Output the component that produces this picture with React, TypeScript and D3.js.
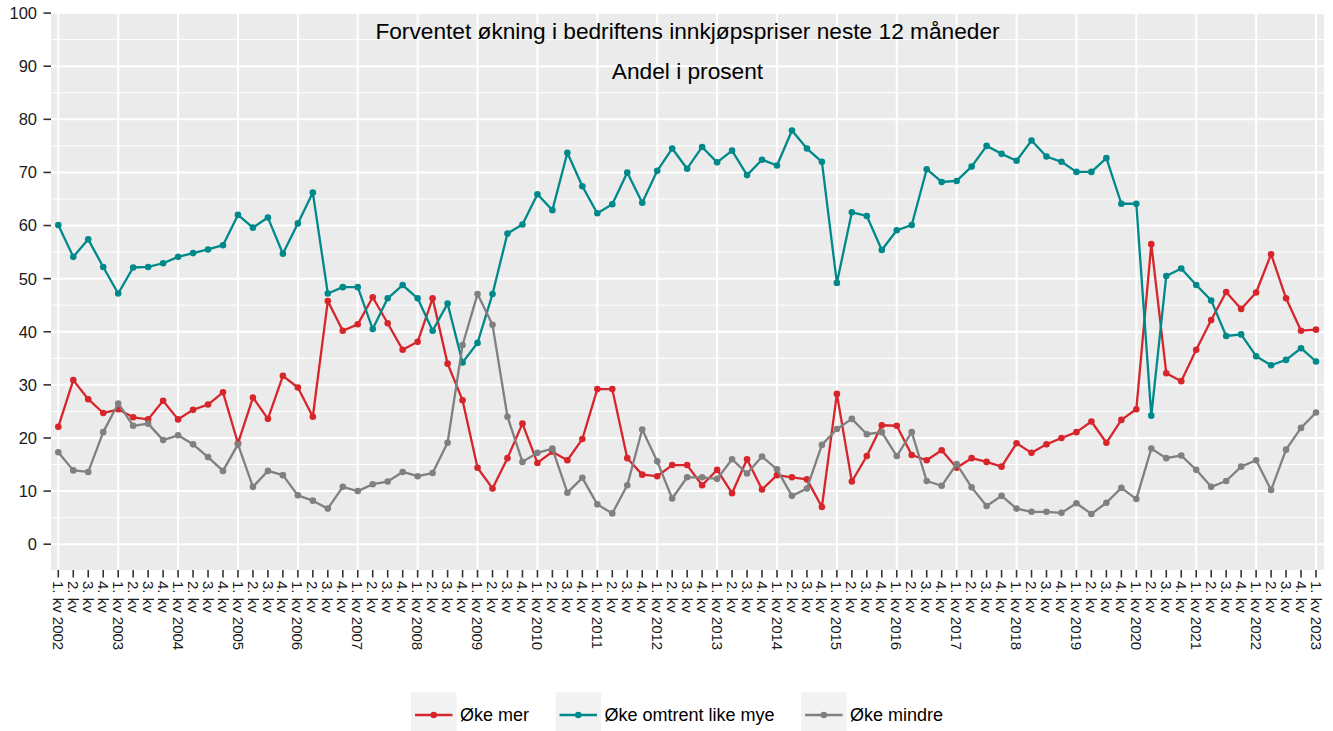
import React, { useEffect, useRef } from 'react';
import * as d3 from 'd3';

// Forventet økning i bedriftens innkjøpspriser, andel i prosent
const years = [2002, 2003, 2004, 2005, 2006, 2007, 2008, 2009, 2010, 2011, 2012, 2013, 2014, 2015, 2016, 2017, 2018, 2019, 2020, 2021, 2022, 2023];
const quarterNames = ['1. kv', '2. kv', '3. kv', '4. kv'];

const okeMer = [
  22.1, 30.9, 27.3, 24.7, 25.4, 23.9, 23.5, 27.0, 23.5, 25.3, 26.3, 28.6, 19.0, 27.6, 23.6, 31.7, 29.5, 24.0,
  45.8, 40.2, 41.4, 46.5, 41.6, 36.6, 38.1, 46.3, 34.0, 27.1, 14.4, 10.5, 16.2, 22.7, 15.3, 17.4, 15.8, 19.8, 29.2, 29.2,
  16.2, 13.1, 12.8, 14.9, 14.9, 11.1, 14.0, 9.6, 16.0, 10.3, 13.0, 12.6, 12.2, 7.0, 28.3, 11.8, 16.6, 22.4, 22.3, 16.8, 15.8, 17.7, 14.4, 16.2,
  15.5, 14.6, 19.0, 17.2, 18.8, 20.0, 21.1, 23.1, 19.1, 23.4, 25.4, 56.5, 32.2, 30.7, 36.6, 42.2, 47.5, 44.3, 47.4, 54.6, 46.3, 40.2, 40.4
];

const okeLike = [
  60.1, 54.1, 57.4, 52.2, 47.2, 52.1, 52.2, 52.9, 54.1, 54.8, 55.5, 56.3, 62.0, 59.6, 61.5, 54.7, 60.4, 66.2,
  47.2, 48.4, 48.4, 40.5, 46.3, 48.8, 46.3, 40.2, 45.3, 34.2, 37.9, 47.1, 58.5, 60.2, 65.9, 62.9, 73.7, 67.4, 62.3, 64.0,
  70.0, 64.3, 70.3, 74.5, 70.7, 74.8, 71.9, 74.1, 69.5, 72.4, 71.3, 77.9, 74.5, 72.0, 49.2, 62.5, 61.8, 55.4, 59.1, 60.1, 70.6, 68.2, 68.4, 71.1,
  75.0, 73.5, 72.2, 76.0, 73.0, 72.0, 70.1, 70.1, 72.7, 64.1, 64.1, 24.2, 50.5, 51.9, 48.8, 45.9, 39.2, 39.5, 35.4, 33.7, 34.7, 36.9, 34.4
];

const okeMindre = [
  17.3, 13.9, 13.6, 21.1, 26.5, 22.3, 22.7, 19.6, 20.5, 18.8, 16.4, 13.8, 18.8, 10.8, 13.8, 13.0, 9.2, 8.2, 6.7,
  10.8, 10.0, 11.3, 11.8, 13.6, 12.8, 13.4, 19.1, 37.5, 47.1, 41.3, 24.0, 15.5, 17.2, 18.0, 9.7, 12.5, 7.5, 5.8, 11.1,
  21.6, 15.6, 8.6, 12.6, 12.6, 12.3, 16.0, 13.3, 16.5, 14.1, 9.1, 10.5, 18.7, 21.7, 23.6, 20.7, 21.1, 16.6, 21.1, 11.9, 11.0, 15.1, 10.7,
  7.2, 9.1, 6.7, 6.1, 6.1, 5.9, 7.7, 5.7, 7.8, 10.6, 8.5, 18.0, 16.2, 16.7, 14.0, 10.8, 11.9, 14.6, 15.8, 10.2, 17.8, 21.9, 24.8
];

const seriesNames = ['Øke mer', 'Øke omtrent like mye', 'Øke mindre'];
const seriesColors = ['#d7262b', '#00898a', '#808080'];
const yTicks = [0, 10, 20, 30, 40, 50, 60, 70, 80, 90, 100];

const WIDTH = 1333;
const HEIGHT = 731;
const FONT = 'Arial, "Liberation Sans", sans-serif';

const App = () => {
  const svgRef = useRef<SVGSVGElement>(null);

  useEffect(() => {
    const svg = d3.select(svgRef.current);
    svg.selectAll('*').remove();

    // quarter labels, Q1 carries the year
    const labels: string[] = [];
    years.forEach((yr, yi) => {
      quarterNames.forEach((q, qi) => {
        if (yi === years.length - 1 && qi > 0) return;
        labels.push(qi === 0 ? `${q} ${yr}` : q);
      });
    });
    const n = labels.length;

    const panel = { left: 51, right: 1324, top: 12.5, bottom: 570 };
    const x = d3.scaleLinear().domain([0, n - 1]).range([58.3, 1316]);
    const y = d3.scaleLinear().domain([0, 100]).range([544.2, 13.1]);

    svg.append('rect').attr('width', WIDTH).attr('height', HEIGHT).attr('fill', '#ffffff');

    svg.append('rect')
      .attr('x', panel.left).attr('y', panel.top)
      .attr('width', panel.right - panel.left).attr('height', panel.bottom - panel.top)
      .attr('fill', '#ebebeb');

    const grid = svg.append('g');
    // minor horizontal grid
    grid.selectAll('line.minor')
      .data(d3.range(5, 100, 10))
      .join('line')
        .attr('class', 'minor')
        .attr('x1', panel.left).attr('x2', panel.right)
        .attr('y1', d => y(d)).attr('y2', d => y(d))
        .attr('stroke', '#ffffff').attr('stroke-width', 1);
    grid.selectAll('line.major')
      .data(yTicks)
      .join('line')
        .attr('class', 'major')
        .attr('x1', panel.left).attr('x2', panel.right)
        .attr('y1', d => y(d)).attr('y2', d => y(d))
        .attr('stroke', '#ffffff').attr('stroke-width', 2);
    grid.selectAll('line.vert')
      .data(d3.range(0, n, 4))
      .join('line')
        .attr('class', 'vert')
        .attr('y1', panel.top).attr('y2', panel.bottom)
        .attr('x1', d => x(d)).attr('x2', d => x(d))
        .attr('stroke', '#ffffff').attr('stroke-width', 2);

    // y axis
    const yAxis = svg.append('g');
    yAxis.selectAll('line')
      .data(yTicks)
      .join('line')
        .attr('x1', 43.5).attr('x2', panel.left)
        .attr('y1', d => y(d)).attr('y2', d => y(d))
        .attr('stroke', '#333333').attr('stroke-width', 1.6);
    yAxis.selectAll('text')
      .data(yTicks)
      .join('text')
        .attr('x', 37).attr('y', d => y(d)).attr('dy', '0.36em')
        .attr('text-anchor', 'end')
        .style('font-family', FONT).style('font-size', '16.5px')
        .attr('fill', '#1a1a1a')
        .text(d => d);

    // x axis
    const xAxis = svg.append('g');
    xAxis.selectAll('line')
      .data(labels)
      .join('line')
        .attr('x1', (_, i) => x(i)).attr('x2', (_, i) => x(i))
        .attr('y1', panel.bottom).attr('y2', 577.5)
        .attr('stroke', '#333333').attr('stroke-width', 1.6);
    xAxis.selectAll('text')
      .data(labels)
      .join('text')
        .attr('transform', (_, i) => `translate(${x(i)},581) rotate(90)`)
        .attr('dy', '0.36em')
        .attr('text-anchor', 'start')
        .style('font-family', FONT).style('font-size', '15px')
        .attr('fill', '#1a1a1a')
        .text(d => d);

    // series
    const data = [okeMer, okeLike, okeMindre];
    const line = d3.line<number>().x((_, i) => x(i)).y(d => y(d));
    data.forEach((vals, si) => {
      const g = svg.append('g');
      g.append('path')
        .datum(vals)
        .attr('d', line)
        .attr('fill', 'none')
        .attr('stroke', seriesColors[si])
        .attr('stroke-width', 2.3)
        .attr('stroke-linejoin', 'round');
      g.selectAll('circle')
        .data(vals)
        .join('circle')
          .attr('cx', (_, i) => x(i)).attr('cy', d => y(d))
          .attr('r', 3.3)
          .attr('fill', seriesColors[si]);
    });

    // titles inside the panel
    svg.append('text')
      .attr('x', (panel.left + panel.right) / 2).attr('y', 38.5)
      .attr('text-anchor', 'middle')
      .style('font-family', FONT).style('font-size', '22.7px')
      .attr('fill', '#000000')
      .text('Forventet økning i bedriftens innkjøpspriser neste 12 måneder');
    svg.append('text')
      .attr('x', (panel.left + panel.right) / 2).attr('y', 78.5)
      .attr('text-anchor', 'middle')
      .style('font-family', FONT).style('font-size', '22.7px')
      .attr('fill', '#000000')
      .text('Andel i prosent');

    // legend
    const legend = svg.append('g');
    let cursor = 411;
    const keyW = 45.5;
    const keyY = 715;
    seriesNames.forEach((name, si) => {
      legend.append('rect')
        .attr('x', cursor).attr('y', 692.3)
        .attr('width', keyW).attr('height', keyW)
        .attr('fill', '#f2f2f2');
      legend.append('line')
        .attr('x1', cursor + 4).attr('x2', cursor + keyW - 4)
        .attr('y1', keyY).attr('y2', keyY)
        .attr('stroke', seriesColors[si]).attr('stroke-width', 2.3);
      legend.append('circle')
        .attr('cx', cursor + keyW / 2).attr('cy', keyY)
        .attr('r', 3.3).attr('fill', seriesColors[si]);
      const t = legend.append('text')
        .attr('x', cursor + keyW + 3.5).attr('y', keyY).attr('dy', '0.36em')
        .style('font-family', FONT).style('font-size', '18px')
        .attr('fill', '#000000')
        .text(name);
      const w = (t.node() as SVGTextElement).getComputedTextLength();
      cursor += keyW + 3.5 + w + 26.5;
    });
  }, []);

  return (
    <svg
      ref={svgRef}
      width={WIDTH}
      height={HEIGHT}
      style={{ position: 'absolute', left: 0, top: 0, display: 'block' }}
    />
  );
};

export default App;
